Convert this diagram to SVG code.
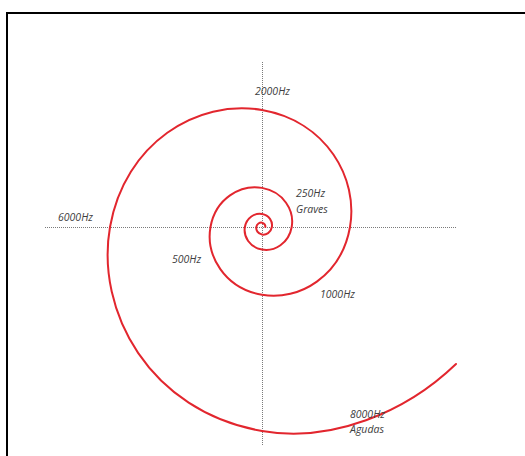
<svg xmlns="http://www.w3.org/2000/svg" width="525" height="456" viewBox="0 0 525 456">
<style>
.axis{fill:none;stroke:#7a7a7a;stroke-width:1;stroke-dasharray:1 1}
.spiral{fill:none;stroke:#e2262e;stroke-width:2;stroke-linecap:round;stroke-linejoin:round}
.lbl{font-family:"Open Sans","Liberation Sans",sans-serif;font-style:italic;font-size:10.5px;fill:#404040}
</style>
<rect x="0" y="0" width="525" height="456" fill="#ffffff"/>
<rect id="frame" x="7" y="13" width="530" height="460" fill="none" stroke="#000" stroke-width="2"/>
<g id="connectors">
<line class="axis" x1="45" y1="227.5" x2="456" y2="227.5"/>
<line class="axis" x1="262.5" y1="62" x2="262.5" y2="446"/>
<path id="spiral" class="spiral" d="M265.28,227 C265.60,225.19 264.39,223.10 262,222.68 C259.61,222.26 256.86,223.86 256.31,227 C255.76,230.14 257.86,233.77 262,234.50 C266.14,235.23 270.91,232.45 271.87,227 C272.83,221.55 269.18,215.26 262,214 C254.82,212.74 246.54,217.54 244.88,227 C243.22,236.46 249.55,247.37 262,249.55 C274.45,251.73 288.83,243.40 291.7,227 C294.57,210.60 283.60,191.68 262,187.89 C240.40,184.10 215.48,198.55 210.49,227 C205.50,255.45 224.53,288.27 262,294.84 C299.47,301.41 341.48,275.6 350,227 C358.52,178.4 326.6,121.33 262,110 C197.4,98.67 124.7,143.05 110,227 C95.3,310.95 149.33,411.25 262,431 C331,443.2 405.6,412.6 456,364"/>
</g>
<g id="label-2000"><text class="lbl" x="255" y="95">2000Hz</text></g>
<g id="label-250"><text class="lbl" x="296" y="197">250Hz</text><text class="lbl" x="296" y="213">Graves</text></g>
<g id="label-6000"><text class="lbl" x="58" y="221">6000Hz</text></g>
<g id="label-500"><text class="lbl" x="172" y="263">500Hz</text></g>
<g id="label-1000"><text class="lbl" x="320" y="298">1000Hz</text></g>
<g id="label-8000"><text class="lbl" x="350" y="418">8000Hz</text><text class="lbl" x="350" y="433">Agudas</text></g>
</svg>
